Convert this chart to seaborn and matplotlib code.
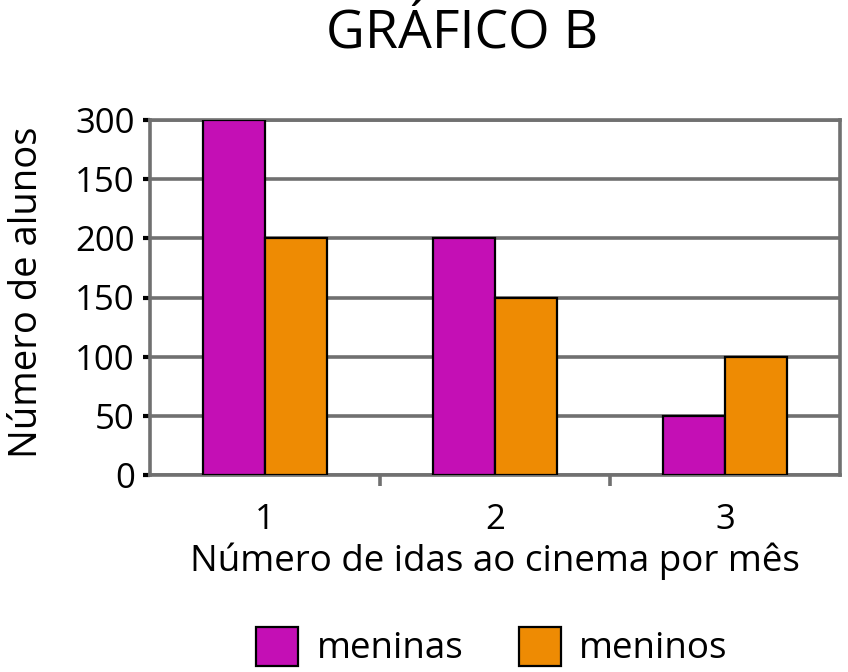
import matplotlib
matplotlib.use("Agg")
import matplotlib.pyplot as plt
import seaborn as sns
import pandas as pd
from matplotlib.patches import Patch
from matplotlib.ticker import FixedLocator

# Data
categories = ["1", "2", "3"]
meninas = [300, 200, 50]
meninos = [200, 150, 100]
series_names = ["meninas", "meninos"]
y_tick_values = [0, 50, 100, 150, 200, 250, 300]
y_tick_labels = ["0", "50", "100", "150", "200", "150", "300"]
colors = ["#C40FB5", "#EE8B03"]

df = pd.DataFrame({
    "idas": categories * 2,
    "valor": meninas + meninos,
    "grupo": [series_names[0]] * 3 + [series_names[1]] * 3,
})

sns.set_theme(style="white")
plt.rcParams["font.family"] = ["Open Sans", "DejaVu Sans"]
plt.rcParams["text.color"] = "black"
plt.rcParams["axes.labelcolor"] = "black"
plt.rcParams["xtick.color"] = "black"
plt.rcParams["ytick.color"] = "black"

fig = plt.figure(figsize=(8.48, 6.72), dpi=100)
ax = fig.add_axes([150 / 848, 1 - 475 / 672, 690 / 848, 355 / 672])

sns.barplot(data=df, x="idas", y="valor", hue="grupo", order=categories,
            hue_order=series_names, palette=colors, width=0.54,
            edgecolor="black", linewidth=1.6, saturation=1, ax=ax,
            legend=False, zorder=3)

ax.set_xlim(-0.5, 2.5)
ax.set_ylim(0, 300)
ax.set_yticks(y_tick_values)
ax.set_yticklabels(y_tick_labels, fontsize=25)
ax.yaxis.grid(True, color="#707070", linewidth=2.6, zorder=0)
ax.set_axisbelow(True)

for s in ax.spines.values():
    s.set_color("#707070")
    s.set_linewidth(2.6)

ax.tick_params(axis="y", which="major", left=True, length=5, width=3,
               color="black", labelcolor="black", pad=6, labelsize=25)
ax.tick_params(axis="x", which="major", bottom=False, length=0, pad=20,
               labelsize=25, labelcolor="black")
ax.xaxis.set_minor_locator(FixedLocator([0.5, 1.5]))
ax.tick_params(axis="x", which="minor", bottom=True, length=8, width=2.6,
               color="#707070", direction="out")

ax.set_xlabel("Número de idas ao cinema por mês", fontsize=26.5, labelpad=4,
              color="black")
ax.set_ylabel("Número de alunos", fontsize=27.5, color="black")
ax.yaxis.set_label_coords(-0.151, 0.515)

fig.text(462 / 848, 1 - 35 / 672, "GRÁFICO B", fontsize=38.5, ha="center",
         va="center", color="black")

handles = [Patch(facecolor=colors[i], edgecolor="black", linewidth=1.6,
                 label=series_names[i]) for i in range(2)]
fig.legend(handles=handles, loc="center", bbox_to_anchor=(492 / 848, 1 - 647 / 672),
           ncol=2, frameon=False, fontsize=26.5, handlelength=1.14,
           handleheight=1.25, handletextpad=0.5, columnspacing=1.5,
           labelcolor="black")

fig.savefig("out.png", dpi=100)
